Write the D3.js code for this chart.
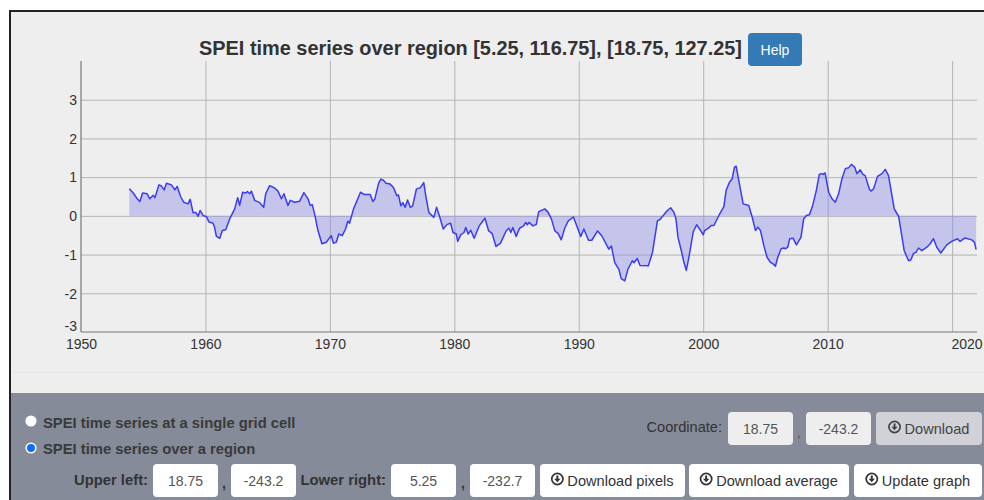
<!DOCTYPE html>
<html><head><meta charset="utf-8">
<script src="https://cdn.jsdelivr.net/npm/d3@7/dist/d3.min.js"></script>
<style>html,body{margin:0;padding:0;background:#fff;overflow:hidden}svg{display:block;font-family:"Liberation Sans",Arial,sans-serif}</style>
</head><body><svg id="c" width="984" height="500"></svg>
<script>
const titleText = "SPEI time series over region [5.25, 116.75], [18.75, 127.25]";
const xTickValues = [1950,1960,1970,1980,1990,2000,2010,2020];
const yTickValues = [-3,-2,-1,0,1,2,3];
const years = [1953.88,1954.2,1954.52,1954.73,1954.95,1955.32,1955.53,1955.8,1955.94,1956.26,1956.47,1956.68,1956.87,1957.27,1957.54,1957.73,1958,1958.26,1958.61,1958.77,1959.01,1959.22,1959.41,1959.57,1959.81,1960.08,1960.29,1960.61,1960.72,1960.88,1961.15,1961.36,1961.63,1961.95,1962.35,1962.59,1962.75,1962.99,1963.24,1963.37,1963.56,1963.69,1963.96,1964.36,1964.68,1964.84,1965.16,1965.56,1965.83,1966.1,1966.31,1966.63,1966.82,1967.17,1967.57,1967.91,1968.24,1968.42,1968.58,1968.77,1969.04,1969.36,1969.71,1970.11,1970.29,1970.51,1970.72,1970.99,1971.26,1971.44,1971.58,1971.9,1972.46,1972.78,1973.24,1973.45,1973.61,1973.93,1974.1,1974.3,1974.51,1974.84,1975.11,1975.38,1975.51,1975.7,1975.86,1976.05,1976.24,1976.46,1976.65,1976.95,1977.27,1977.54,1977.73,1977.95,1978.35,1978.57,1978.76,1979.11,1979.43,1979.7,1979.89,1980.16,1980.27,1980.51,1980.78,1980.92,1981.11,1981.32,1981.59,1982,1982.46,1982.76,1983.03,1983.35,1983.7,1984.16,1984.38,1984.54,1984.7,1984.97,1985.24,1985.57,1985.73,1985.86,1986,1986.32,1986.59,1986.78,1987.27,1987.54,1987.81,1988.08,1988.35,1988.59,1988.89,1989.16,1989.57,1989.84,1990.16,1990.41,1990.78,1991.05,1991.51,1991.86,1992.41,1992.62,1992.89,1993.22,1993.41,1993.7,1993.95,1994.3,1994.43,1994.7,1994.92,1995.59,1995.92,1996.32,1996.54,1996.84,1997.06,1997.38,1997.65,1997.81,1997.97,1998.24,1998.45,1998.64,1998.85,1999.2,1999.47,1999.79,2000,2000.11,2000.45,2000.64,2000.86,2001.26,2001.66,2001.84,2002.11,2002.33,2002.51,2002.65,2002.86,2003.21,2003.66,2003.93,2004.2,2004.39,2004.6,2004.87,2005.13,2005.4,2005.61,2005.8,2005.99,2006.26,2006.47,2006.6,2006.79,2006.95,2007.22,2007.49,2007.86,2008.07,2008.29,2008.53,2008.8,2009.09,2009.33,2009.49,2009.63,2009.79,2010.08,2010.35,2010.61,2010.88,2011.15,2011.42,2011.68,2011.9,2012.17,2012.35,2012.62,2012.83,2013.02,2013.34,2013.48,2013.69,2014.01,2014.36,2014.63,2014.89,2015.35,2015.7,2016.15,2016.5,2016.68,2016.9,2017.11,2017.3,2017.57,2017.97,2018.24,2018.5,2018.77,2019.09,2019.57,2019.97,2020.43,2020.64,2021.04,2021.57,2021.79,2021.93];
const values = [.70,.59,.44,.37,.59,.57,.44,.53,.47,.80,.77,.67,.84,.80,.67,.76,.50,.35,.31,.43,.08,.09,-.01,.14,.01,-.02,-.16,-.19,-.28,-.53,-.58,-.38,-.36,-.08,.18,.47,.27,.61,.59,.63,.57,.64,.40,.34,.22,.57,.78,.72,.64,.44,.57,.27,.40,.35,.38,.60,.44,.27,.29,.05,-.38,-.72,-.68,-.51,-.71,-.68,-.47,-.51,-.34,-.14,-.19,.18,.61,.55,.55,.37,.44,.86,.95,.92,.84,.82,.73,.52,.54,.26,.34,.22,.41,.22,.26,.69,.73,.86,.47,.09,-.04,.22,.04,-.34,-.22,-.19,-.43,-.47,-.66,-.49,-.43,-.30,-.47,-.37,-.58,-.26,-.06,-.39,-.45,-.79,-.71,-.39,-.32,-.43,-.30,-.53,-.32,-.26,-.17,-.23,-.17,-.26,-.22,.11,.18,.09,-.09,-.39,-.46,-.62,-.30,-.13,-.03,-.26,-.53,-.34,-.63,-.63,-.39,-.52,-.86,-.78,-1.21,-1.38,-1.62,-1.68,-1.38,-1.16,-1.21,-1.10,-1.28,-1.29,-.95,-.13,-.09,.03,.12,.21,.09,-.08,-.55,-.90,-1.20,-1.41,-1.07,-.41,-.23,-.38,-.49,-.38,-.31,-.25,-.25,.01,.24,.66,.87,.96,1.26,1.28,.91,.31,.27,-.03,-.38,-.29,-.38,-.77,-1.07,-1.20,-1.24,-1.30,-1.07,-.85,-.83,-.85,-.81,-.59,-.58,-.75,-.55,-.08,.01,.03,.27,.66,1.07,1.09,1.07,1.11,.61,.44,.35,.57,.96,1.22,1.24,1.33,1.26,1.09,1.19,1.07,1.04,.70,.64,.70,1.02,1.09,1.20,1.04,.18,-.01,-.90,-1.16,-1.14,-.97,-.94,-.83,-.90,-.81,-.72,-.59,-.81,-.96,-.75,-.66,-.59,-.66,-.57,-.62,-.68,-.87];
const radioLabels = ["SPEI time series at a single grid cell","SPEI time series over a region"];

const svg = d3.select("#c");
const F = "#333";
// page panels
svg.append("rect").attr("x",10).attr("y",11).attr("width",974).attr("height",382).attr("fill","#eee");
svg.append("rect").attr("x",10).attr("y",393).attr("width",974).attr("height",107).attr("fill","#858b99");
svg.append("rect").attr("x",10).attr("y",372).attr("width",974).attr("height",1).attr("fill","#e7e7e7");
svg.append("rect").attr("x",9).attr("y",10).attr("width",975).attr("height",2).attr("fill","#222");
svg.append("rect").attr("x",9).attr("y",10).attr("width",2).attr("height",490).attr("fill","#222");

const x = d3.scaleLinear().domain([1950,2022]).range([81,977]);
const y = d3.scaleLinear().domain([-3,4]).range([332,61]);
const data = years.map((t,i)=>({t,v:values[i]}));

// grid
const gx = svg.append("g").attr("transform","translate(0,332)")
  .call(d3.axisBottom(x).tickValues(xTickValues).tickFormat(d3.format("d")).tickSize(-271).tickPadding(5));
gx.select(".domain").remove();
gx.selectAll("line").attr("stroke","#b4b4b4").filter(d=>d===1950).remove();
gx.selectAll("text").attr("font-size",14).attr("font-family","inherit").attr("fill",F)
  .attr("text-anchor",d=>d===2020?"end":"middle").attr("dy","0.8em").attr("y",6)
  .attr("x",d=>d===2020?30:0);
const gy = svg.append("g").attr("transform","translate(81,0)")
  .call(d3.axisLeft(y).tickValues(yTickValues).tickSize(-896).tickPadding(4));
gy.select(".domain").remove();
gy.selectAll("line").attr("stroke","#b4b4b4").filter(d=>d===-3).remove();
gy.selectAll("text").attr("font-size",14).attr("font-family","inherit").attr("fill",F)
  .attr("dy",d=>d===-3?"-0.1em":"0.34em").text(d=>d);

// marks
svg.append("path").datum(data).attr("fill","#8c8ce6").attr("fill-opacity",.42)
  .attr("d",d3.area().x(d=>x(d.t)).y0(y(0)).y1(d=>y(d.v)));
svg.append("path").datum(data).attr("fill","none").attr("stroke","#3c3cf0").attr("stroke-width",1.5)
  .attr("stroke-linejoin","round").attr("d",d3.line().x(d=>x(d.t)).y(d=>y(d.v)));

// axis lines
svg.append("line").attr("x1",81).attr("x2",81).attr("y1",61).attr("y2",332).attr("stroke","#777").attr("stroke-width",1.2);
svg.append("line").attr("x1",81).attr("x2",977).attr("y1",332).attr("y2",332).attr("stroke","#777").attr("stroke-width",1.2);

// title and help
svg.append("text").attr("x",470.5).attr("y",55).attr("text-anchor","middle").attr("font-size",19.9).attr("font-weight","bold").attr("fill",F).text(titleText);
svg.append("rect").attr("x",748).attr("y",33).attr("width",54).attr("height",33).attr("rx",4).attr("fill","#337ab7");
svg.append("text").attr("x",775).attr("y",55).attr("text-anchor","middle").attr("font-size",14).attr("fill","#fff").text("Help");

// controls
function box(x0,x1,y0,fill,label,color,icon){
  svg.append("rect").attr("x",x0).attr("y",y0).attr("width",x1-x0).attr("height",33).attr("rx",4).attr("fill",fill);
  const cx=(x0+x1)/2;
  if(icon){
    const t=svg.append("text").attr("x",cx+8).attr("y",y0+22).attr("text-anchor","middle").attr("font-size",14.6).attr("fill",color).text(label);
    const w=t.node().getComputedTextLength(), ix=cx+8-w/2-10, iy=y0+15;
    svg.append("circle").attr("cx",ix).attr("cy",iy).attr("r",5.6).attr("fill","none").attr("stroke",color).attr("stroke-width",1.7);
    svg.append("path").attr("d",`M${ix-1},${iy-3.4}h2v3.2h2.2l-3.2,3.4l-3.2,-3.4h2.2z`).attr("fill",color);
  } else {
    svg.append("text").attr("x",cx).attr("y",y0+22).attr("text-anchor","middle").attr("font-size",14).attr("fill",color).text(label);
  }
}
[[31,421,false],[31,448,true]].forEach((r,i)=>{
  svg.append("circle").attr("cx",r[0]).attr("cy",r[1]).attr("r",r[2]?4.8:5.6).attr("fill",r[2]?"#0b6cff":"#fff").attr("stroke","#fff").attr("stroke-width",r[2]?1.6:0);
  svg.append("text").attr("x",43).attr("y",r[1]+(r[2]?6:7)).attr("font-size",14.8).attr("font-weight","bold").attr("fill","#3a3a3a").text(radioLabels[i]);
});
svg.append("text").attr("x",722).attr("y",432).attr("text-anchor","end").attr("font-size",14.6).attr("fill","#333").text("Coordinate:");
box(728,793,412,"#eee","18.75","#555");
svg.append("text").attr("x",799).attr("y",437).attr("text-anchor","middle").attr("font-size",14).attr("fill","#555").text(",");
box(806,871,412,"#eee","-243.2","#555");
box(876,982,412,"#d0d2d7","Download","#444",true);

svg.append("text").attr("x",148).attr("y",485).attr("text-anchor","end").attr("font-size",14.8).attr("font-weight","bold").attr("fill","#333").text("Upper left:");
box(153,218,464,"#fff","18.75","#555");
svg.append("text").attr("x",224).attr("y",488).attr("text-anchor","middle").attr("font-size",14).attr("font-weight","bold").attr("fill","#333").text(",");
box(231,296,464,"#fff","-243.2","#555");
svg.append("text").attr("x",386).attr("y",485).attr("text-anchor","end").attr("font-size",14.8).attr("font-weight","bold").attr("fill","#333").text("Lower right:");
box(391,456,464,"#fff","5.25","#555");
svg.append("text").attr("x",463).attr("y",488).attr("text-anchor","middle").attr("font-size",14).attr("font-weight","bold").attr("fill","#333").text(",");
box(470,535,464,"#fff","-232.7","#555");
box(540,685,464,"#fff","Download pixels","#333",true);
box(689,849,464,"#fff","Download average","#333",true);
box(854,982,464,"#fff","Update graph","#333",true);
</script></body></html>
